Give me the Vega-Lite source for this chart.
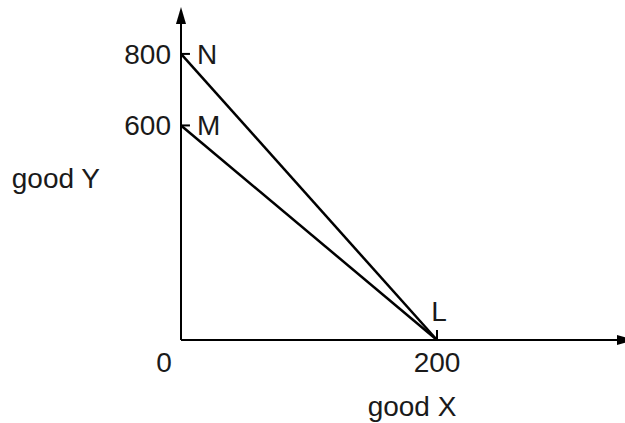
{
  "$schema": "https://vega.github.io/schema/vega-lite/v6.json",
  "width": 444,
  "height": 333,
  "autosize": {"type": "none"},
  "padding": {"left": 181, "top": 7, "right": 0, "bottom": 83},
  "background": "white",
  "config": {"view": {"stroke": null}, "text": {"font": "Liberation Sans", "fontSize": 28, "color": "#1a1a1a"}},
  "datasets": {
    "curves": [
      {"curve": "N", "x": 0, "y": 800},
      {"curve": "N", "x": 200, "y": 0},
      {"curve": "M", "x": 0, "y": 600},
      {"curve": "M", "x": 200, "y": 0}
    ],
    "segments": [
      {"x": 0, "y": 0, "x2": 0, "y2": 900},
      {"x": 0, "y": 0, "x2": 345, "y2": 0},
      {"x": 0, "y": 800, "x2": 7, "y2": 800},
      {"x": 0, "y": 600, "x2": 7, "y2": 600},
      {"x": 200, "y": 0, "x2": 200, "y2": 28}
    ],
    "yArrow": [{"x": 0, "y": 931.2}],
    "xArrow": [{"x": 353.9, "y": 0}],
    "yLabels": [{"text": "800", "x": 0, "y": 800}, {"text": "600", "x": 0, "y": 600}],
    "pointLabels": [{"text": "N", "x": 0, "y": 800}, {"text": "M", "x": 0, "y": 600}],
    "lLabel": [{"text": "L", "x": 200, "y": 0}],
    "xLabel": [{"text": "200", "x": 200, "y": 0}],
    "zeroLabel": [{"text": "0", "x": 0, "y": 0}],
    "xTitle": [{"text": "good X", "x": 200, "y": 0}],
    "yTitle": [{"text": "good Y", "x": 0, "y": 425}]
  },
  "layer": [
    {
      "data": {"name": "curves"},
      "mark": {"type": "line", "color": "black", "strokeWidth": 2.5},
      "encoding": {
        "x": {"field": "x", "type": "quantitative", "scale": {"domain": [0, 346.875], "nice": false, "zero": false}, "axis": null},
        "y": {"field": "y", "type": "quantitative", "scale": {"domain": [0, 931.2], "nice": false, "zero": false}, "axis": null},
        "detail": {"field": "curve"}
      }
    },
    {
      "data": {"name": "segments"},
      "mark": {"type": "rule", "color": "black", "strokeWidth": 2},
      "encoding": {
        "x": {"field": "x", "type": "quantitative"},
        "y": {"field": "y", "type": "quantitative"},
        "x2": {"field": "x2"},
        "y2": {"field": "y2"}
      }
    },
    {
      "data": {"name": "yArrow"},
      "mark": {"type": "point", "shape": "M0,0L-0.59,2L0.59,2Z", "size": 289, "filled": true, "color": "black", "opacity": 1},
      "encoding": {"x": {"field": "x", "type": "quantitative"}, "y": {"field": "y", "type": "quantitative"}}
    },
    {
      "data": {"name": "xArrow"},
      "mark": {"type": "point", "shape": "M0,0L-2,-0.59L-2,0.59Z", "size": 289, "filled": true, "color": "black", "opacity": 1},
      "encoding": {"x": {"field": "x", "type": "quantitative"}, "y": {"field": "y", "type": "quantitative"}}
    },
    {
      "data": {"name": "yLabels"},
      "mark": {"type": "text", "align": "right", "baseline": "middle", "dx": -10, "dy": 2},
      "encoding": {"x": {"field": "x", "type": "quantitative"}, "y": {"field": "y", "type": "quantitative"}, "text": {"field": "text"}}
    },
    {
      "data": {"name": "pointLabels"},
      "mark": {"type": "text", "align": "left", "baseline": "middle", "dx": 16, "dy": 2},
      "encoding": {"x": {"field": "x", "type": "quantitative"}, "y": {"field": "y", "type": "quantitative"}, "text": {"field": "text"}}
    },
    {
      "data": {"name": "lLabel"},
      "mark": {"type": "text", "align": "center", "baseline": "middle", "dx": 2, "dy": -27},
      "encoding": {"x": {"field": "x", "type": "quantitative"}, "y": {"field": "y", "type": "quantitative"}, "text": {"field": "text"}}
    },
    {
      "data": {"name": "xLabel"},
      "mark": {"type": "text", "align": "center", "baseline": "middle", "dy": 24},
      "encoding": {"x": {"field": "x", "type": "quantitative"}, "y": {"field": "y", "type": "quantitative"}, "text": {"field": "text"}}
    },
    {
      "data": {"name": "zeroLabel"},
      "mark": {"type": "text", "align": "center", "baseline": "middle", "dx": -17, "dy": 24},
      "encoding": {"x": {"field": "x", "type": "quantitative"}, "y": {"field": "y", "type": "quantitative"}, "text": {"field": "text"}}
    },
    {
      "data": {"name": "xTitle"},
      "mark": {"type": "text", "align": "center", "baseline": "alphabetic", "dx": -25, "dy": 76},
      "encoding": {"x": {"field": "x", "type": "quantitative"}, "y": {"field": "y", "type": "quantitative"}, "text": {"field": "text"}}
    },
    {
      "data": {"name": "yTitle"},
      "mark": {"type": "text", "align": "right", "baseline": "alphabetic", "dx": -81},
      "encoding": {"x": {"field": "x", "type": "quantitative"}, "y": {"field": "y", "type": "quantitative"}, "text": {"field": "text"}}
    }
  ]
}
